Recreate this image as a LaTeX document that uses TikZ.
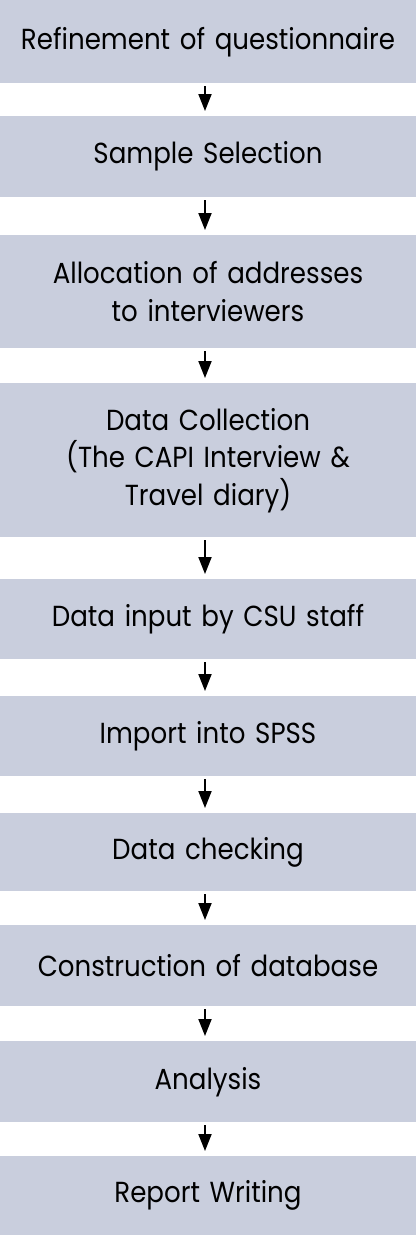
\documentclass[tikz,border=0pt]{standalone}
\usepackage{fontspec}
\setmainfont[FakeStretch=0.9]{Poppins}
\usetikzlibrary{arrows.meta}
\definecolor{boxfill}{RGB}{201,206,221}
\begin{document}
\begin{tikzpicture}[x=1pt,y=1pt,
  stepbox/.style={fill=boxfill, minimum width=416pt, text width=414pt, align=center,
    inner sep=0pt, anchor=north, font=\fontsize{29}{37.5}\selectfont},
  arr/.style={line width=2pt, -{Triangle[length=17pt,width=13pt]}}]
\useasboundingbox (0,0) rectangle (416,-1235);
\node[stepbox, minimum height=83pt]  (n1)  at (208,0)     {Refinement of questionnaire};
\node[stepbox, minimum height=81pt]  (n2)  at (208,-116)  {Sample Selection};
\node[stepbox, minimum height=113pt] (n3)  at (208,-235)  {Allocation of addresses\\to interviewers};
\node[stepbox, minimum height=154pt] (n4)  at (208,-383)  {Data Collection\\(The CAPI Interview \&\\Travel diary)};
\node[stepbox, minimum height=80pt]  (n5)  at (208,-579)  {Data input by CSU staff};
\node[stepbox, minimum height=80pt]  (n6)  at (208,-696)  {Import into SPSS};
\node[stepbox, minimum height=78pt]  (n7)  at (208,-813)  {Data checking};
\node[stepbox, minimum height=81pt]  (n8)  at (208,-925)  {Construction of database};
\node[stepbox, minimum height=81pt]  (n9)  at (208,-1041) {Analysis};
\node[stepbox, minimum height=79pt]  (n10) at (208,-1156) {Report Writing};
\foreach \a/\b in {n1/n2,n2/n3,n3/n4,n4/n5,n5/n6,n6/n7,n7/n8,n8/n9,n9/n10}
  \draw[arr] ([xshift=-3pt,yshift=-3pt]\a.south) -- ([xshift=-3pt,yshift=5pt]\b.north);
\end{tikzpicture}
\end{document}
